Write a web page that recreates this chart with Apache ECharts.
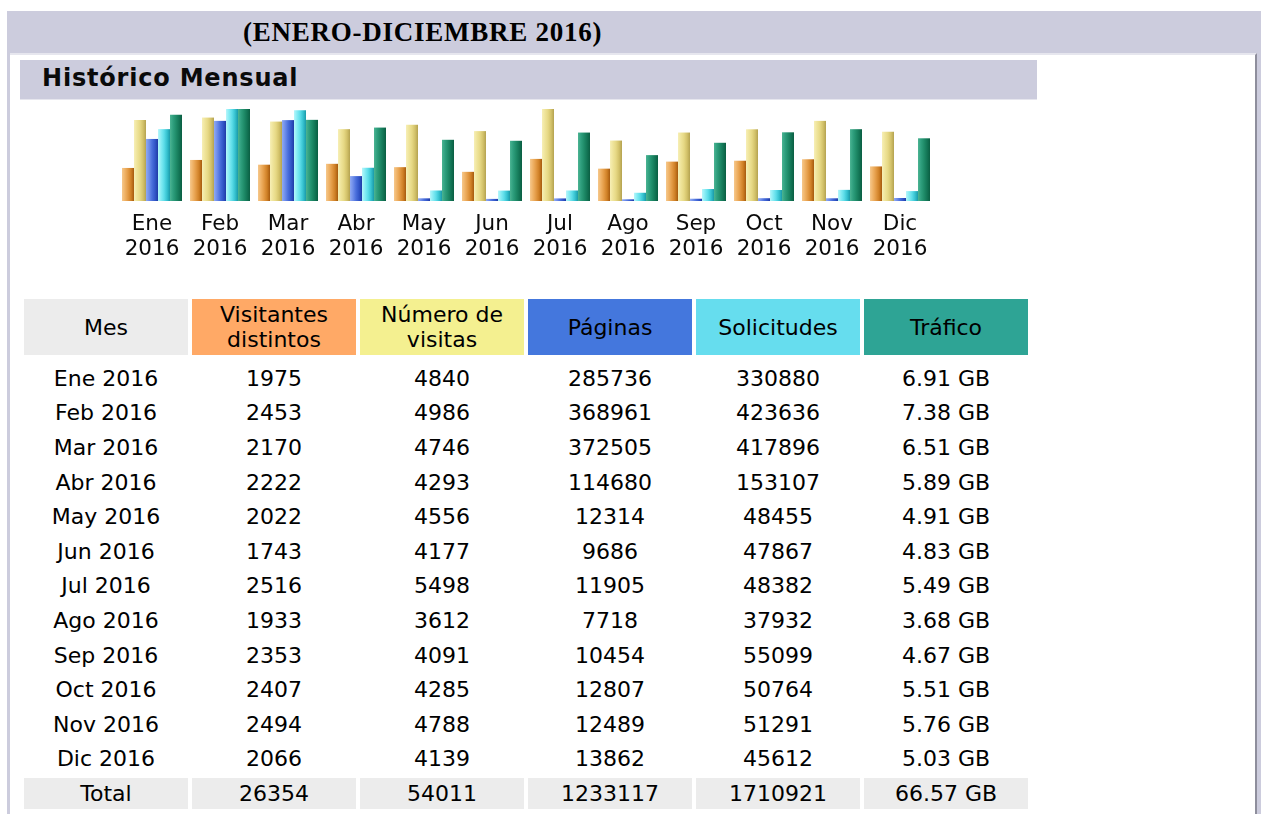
<!DOCTYPE html>
<html>
<head>
<meta charset="utf-8">
<script src="https://cdn.jsdelivr.net/npm/echarts@6/dist/echarts.min.js"></script>
<style>
  html, body { margin: 0; padding: 0; width: 1263px; height: 814px; overflow: hidden; background: #ffffff; }
  #band { position: absolute; left: 7px; top: 11px; width: 1254px; height: 803px; background: #CCCCDD; }
  #title { position: absolute; left: 243px; top: 15px; font-family: "Liberation Serif", serif; font-weight: bold; font-size: 27px; line-height: 34px; letter-spacing: 0.75px; color: #000; white-space: nowrap; }
  #panel { position: absolute; left: 10px; top: 53px; width: 1245px; height: 761px; background: #ffffff; border-top: 2px solid #E6E6EE; border-right: 2px solid #8E8E9C; }
  #histBox { position: absolute; left: 20px; top: 60px; width: 1017px; height: 39px; background: #CCCCDD; border-bottom: 1px solid #E6E6EE; }
  #histTitle { position: absolute; left: 42px; top: 61px; font-family: "DejaVu Sans", Verdana, sans-serif; font-weight: bold; font-size: 24px; line-height: 34px; letter-spacing: 0.8px; color: #0a0a0a; white-space: nowrap; }
  #chart { position: absolute; left: 0; top: 0; width: 1263px; height: 290px; }
  #tbl { position: absolute; left: 20px; top: 295px; border-collapse: separate; border-spacing: 4px; font-family: "DejaVu Sans", Verdana, sans-serif; font-size: 22px; color: #000; }
  #tbl td { width: 164px; padding: 0; text-align: center; vertical-align: middle; height: 30.6px; white-space: nowrap; }
  #tbl td.h { height: 60px; vertical-align: top; }
  #tbl td.h div { height: 56px; display: flex; align-items: center; justify-content: center; line-height: 25px; white-space: normal; padding: 0 6px; }
  #tbl tr.tot td { background: #ECECEC; }
</style>
</head>
<body>
<div id="band"></div>
<div id="title">(ENERO-DICIEMBRE 2016)</div>
<div id="panel"></div>
<div id="histBox"></div>
<div id="histTitle">Histórico Mensual</div>
<div id="chart"></div>
<table id="tbl"></table>
<script>
// ---- data ----
const months = ['Ene', 'Feb', 'Mar', 'Abr', 'May', 'Jun', 'Jul', 'Ago', 'Sep', 'Oct', 'Nov', 'Dic'];
const year = '2016';
const visitors = [1975, 2453, 2170, 2222, 2022, 1743, 2516, 1933, 2353, 2407, 2494, 2066];
const visits = [4840, 4986, 4746, 4293, 4556, 4177, 5498, 3612, 4091, 4285, 4788, 4139];
const pages = [285736, 368961, 372505, 114680, 12314, 9686, 11905, 7718, 10454, 12807, 12489, 13862];
const hits = [330880, 423636, 417896, 153107, 48455, 47867, 48382, 37932, 55099, 50764, 51291, 45612];
const trafficGB = [6.91, 7.38, 6.51, 5.89, 4.91, 4.83, 5.49, 3.68, 4.67, 5.51, 5.76, 5.03];
const totals = ['Total', '26354', '54011', '1233117', '1710921', '66.57 GB'];
const headers = ['Mes', 'Visitantes distintos', 'Número de visitas', 'Páginas', 'Solicitudes', 'Tráfico'];

// ---- styles ----
const headerColors = ['#ECECEC', '#FFA966', '#F4F090', '#4477DD', '#66DDEE', '#2EA495'];
function grad(stops) {
  return new echarts.graphic.LinearGradient(0, 0, 1, 0, stops.map((c, i) => ({ offset: i / (stops.length - 1), color: c })));
}
const barColors = [
  grad(['#f6c88c', '#efb266', '#e39a44', '#cf8026', '#a65a0e']),
  grad(['#f7efb6', '#efe49a', '#e6d884', '#d3c26a', '#b4a250']),
  grad(['#90aaf2', '#6f8eea', '#4a6fdc', '#3256c8', '#1f3aa6']),
  grad(['#b6f6fb', '#86ecf4', '#5ddde9', '#36c2d0', '#1a9aa8']),
  grad(['#4cb493', '#2f9f7e', '#1f8c69', '#137656', '#0a5e42'])
];

const chart = echarts.init(document.getElementById('chart'), null, { renderer: 'canvas' });
const maxVisits = Math.max(...visits);
const maxHits = Math.max(...hits);
const maxTraffic = Math.max(...trafficGB);
const seriesData = [visitors, visits, pages, hits, trafficGB];
const axisIdx = [0, 0, 1, 1, 2];
chart.setOption({
  animation: false,
  grid: { left: 118, top: 109, width: 816, height: 92 },
  xAxis: {
    type: 'category',
    data: months,
    axisLine: { show: false },
    axisTick: { show: false },
    axisLabel: {
      interval: 0,
      margin: 11,
      formatter: (v) => v + '\n' + year,
      fontFamily: 'DejaVu Sans',
      fontSize: 21.5,
      lineHeight: 25,
      color: '#0a0a0a'
    }
  },
  yAxis: [
    { type: 'value', min: 0, max: maxVisits, show: false },
    { type: 'value', min: 0, max: maxHits, show: false },
    { type: 'value', min: 0, max: maxTraffic, show: false }
  ],
  series: seriesData.map((d, i) => ({
    type: 'bar',
    data: d,
    yAxisIndex: axisIdx[i],
    barWidth: 12,
    barGap: '0%',
    itemStyle: { color: barColors[i] }
  }))
});

// ---- table ----
const tbl = document.getElementById('tbl');
let html = '<tr>';
headers.forEach((h, i) => {
  html += '<td class="h"><div style="background:' + headerColors[i] + '">' + h + '</div></td>';
});
html += '</tr>';
months.forEach((m, i) => {
  html += '<tr><td>' + m + ' ' + year + '</td><td>' + visitors[i] + '</td><td>' + visits[i] + '</td><td>' +
    pages[i] + '</td><td>' + hits[i] + '</td><td>' + trafficGB[i].toFixed(2) + ' GB</td></tr>';
});
html += '<tr class="tot">' + totals.map(t => '<td>' + t + '</td>').join('') + '</tr>';
tbl.innerHTML = html;
</script>
</body>
</html>
